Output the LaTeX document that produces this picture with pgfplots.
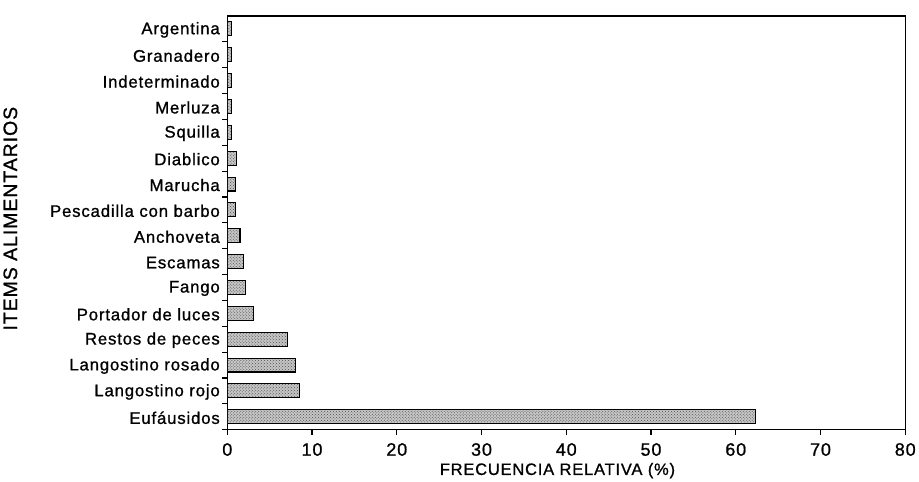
\documentclass[border=0pt]{standalone}
\usepackage{pgfplots}
\pgfplotsset{compat=1.18}
\usepackage{fontspec}
\setmainfont{Liberation Sans}[LetterSpace=5, FakeBold=1]
\usetikzlibrary{patterns}
\begin{document}
\begin{tikzpicture}
\begin{axis}[
  name=ax,
  at={(0,0)}, anchor=south west,
  scale only axis,
  width=680pt, height=415pt,
  xbar, bar width=0.54,
  xmin=0, xmax=80,
  ymin=-0.5, ymax=15.5,
  xtick={0,10,...,80},
  ytick={-0.5,0.5,...,14.5},
  yticklabels={},
  extra y ticks={0,...,15},
  extra y tick labels={Eufáusidos,Langostino rojo,Langostino rosado,Restos de peces,Portador de luces,Fango,Escamas,Anchoveta,Pescadilla con barbo,Marucha,Diablico,Squilla,Merluza,Indeterminado,Granadero,Argentina},
  extra y tick style={tick style={draw=none}},
  tick pos=left,
  major tick length=5pt,
  tick align=outside,
  tick style={black, line width=1.2pt},
  axis line style={line width=1.4pt},
  /pgf/number format/assume math mode=true,
  xticklabel style={font=\fontsize{18}{20}\selectfont, yshift=-5pt},
  yticklabel style={font=\fontsize{16.8}{18}\selectfont, xshift=1pt, yshift=-1pt},
  xlabel={FRECUENCIA RELATIVA (\%)},
  ylabel={ITEMS ALIMENTARIOS},
  xlabel style={font=\fontsize{16.5}{18}\selectfont,
    at={(axis description cs:0.487,-0.099)}, anchor=center},
  ylabel style={font=\fontsize{19.5}{21}\selectfont,
    at={(axis description cs:-0.32,0.51)}, anchor=center},
]
\addplot[draw=black, line width=1.1pt, fill=gray!45,
  postaction={pattern=crosshatch dots, pattern color=gray!60!black}]
  coordinates {
  (62.3,0) (8.55,1) (8.1,2) (7.1,3) (3.05,4) (2.1,5) (1.95,6) (1.5,7)
  (1.0,8) (1.0,9) (1.1,10) (0.5,11) (0.5,12) (0.5,13) (0.5,14) (0.5,15)};
\end{axis}
\path (ax.south west) ++(-228pt,-51pt) rectangle ++(919pt,482pt);
\end{tikzpicture}
\end{document}
